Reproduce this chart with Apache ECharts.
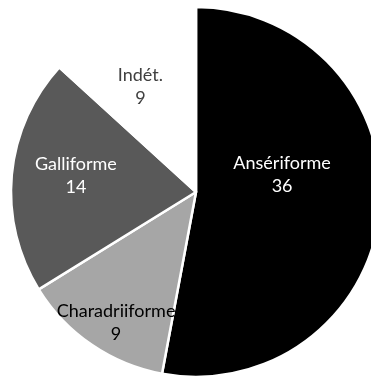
<!DOCTYPE html>
<html>
<head>
<meta charset="utf-8">
<style>
  html, body { margin: 0; padding: 0; background: #ffffff; }
  #chart { width: 371px; height: 378px; }
</style>
<script src="https://cdn.jsdelivr.net/npm/echarts@6/dist/echarts.min.js"></script>
</head>
<body>
<div id="chart"></div>
<script>
// Bird orders, counts per order
const categories = ['Ansériforme', 'Charadriiforme', 'Galliforme', 'Indét.'];
const counts = [36, 9, 14, 9];
const sliceColors = ['#000000', '#a6a6a6', '#595959', '#ffffff'];
const labelColors = ['#ffffff', '#000000', '#ffffff', '#404040'];
const labelOffsets = [[-9, -26], [-26, 52], [-25, -8], [-17, -18]];

const chart = echarts.init(document.getElementById('chart'), null, { renderer: 'canvas' });

const data = categories.map((name, i) => ({
  name: name,
  value: counts[i],
  itemStyle: { color: sliceColors[i] },
  label: { color: labelColors[i], offset: labelOffsets[i] }
}));

chart.setOption({
  animation: false,
  backgroundColor: '#ffffff',
  series: [{
    type: 'pie',
    center: [196, 192],
    radius: [0, 185],
    startAngle: 90,
    clockwise: true,
    avoidLabelOverlap: false,
    itemStyle: { borderColor: '#ffffff', borderWidth: 2.5 },
    label: {
      show: true,
      position: 'inside',
      formatter: '{b}\n{c}',
      fontFamily: 'Lato',
      fontSize: 18,
      lineHeight: 23,
      align: 'center'
    },
    labelLine: { show: false },
    emphasis: { disabled: true },
    data: data
  }]
});
</script>
</body>
</html>
